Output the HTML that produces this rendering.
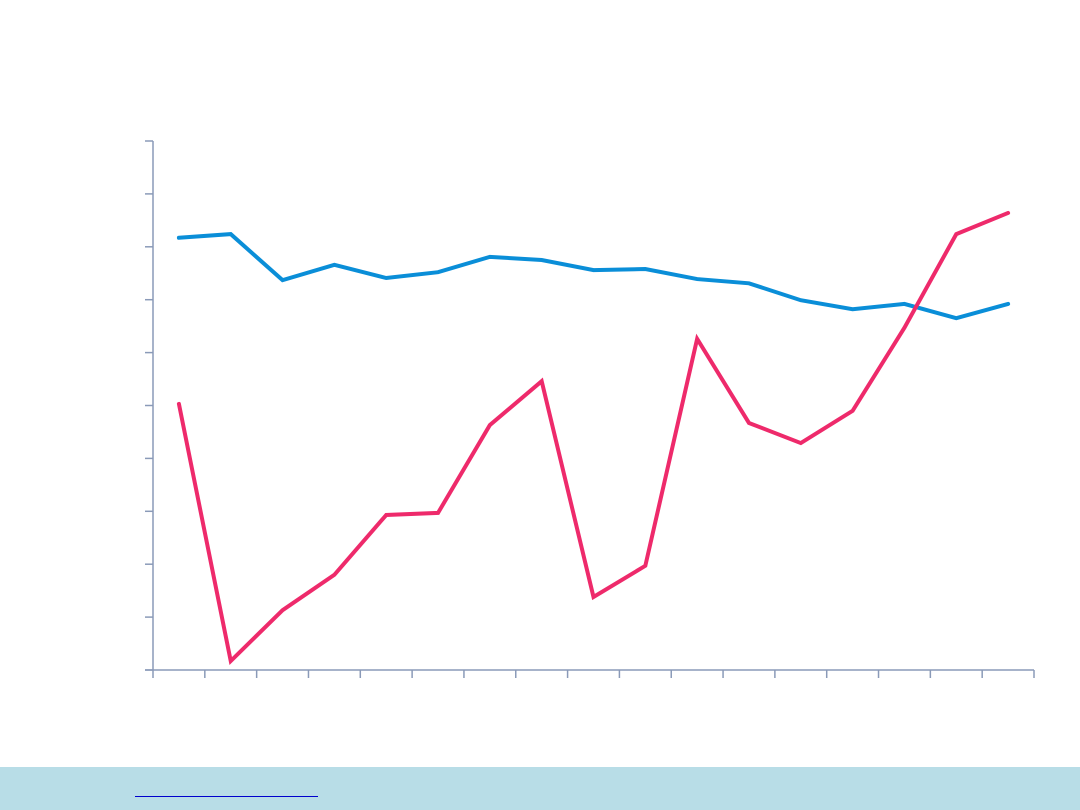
<!DOCTYPE html>
<html><head><meta charset="utf-8"><style>
body{margin:0;width:1080px;height:810px;background:#fff;position:relative;overflow:hidden;font-family:"Liberation Sans",sans-serif}
#footer{position:absolute;left:0;top:767px;width:1080px;height:43px;background:#b8dde7}
#link{position:absolute;left:135px;top:29px;width:183px;height:0;border-bottom:1.5px solid #0000cc}
</style></head><body>
<svg id="chart" width="1080" height="767" style="position:absolute;left:0;top:0"></svg>
<div id="footer"><a id="link"></a></div>
<script>
const categories=[1,2,3,4,5,6,7,8,9,10,11,12,13,14,15,16,17];
const seriesBlue=[8.17,8.24,7.37,7.66,7.41,7.52,7.81,7.75,7.56,7.58,7.39,7.31,6.99,6.82,6.92,6.65,6.92];
const seriesPink=[5.03,0.17,1.13,1.80,2.93,2.97,4.63,5.46,1.38,1.97,6.26,4.67,4.29,4.90,6.47,8.24,8.64];
const yTicks=[0,1,2,3,4,5,6,7,8,9,10];
const NS='http://www.w3.org/2000/svg';
const svg=document.getElementById('chart');
const x0=153,x1=1034,yb=670,yt=141;
const step=(x1-x0)/categories.length;
const xs=i=>x0+step*(i+0.5);
const ys=v=>yb-(v/10)*(yb-yt);
function el(t,a){const e=document.createElementNS(NS,t);for(const k in a)e.setAttribute(k,a[k]);svg.appendChild(e);return e;}
const axc='#8a9ab8';
let ya=el('line',{x1:x0,y1:yt,x2:x0,y2:yb,stroke:axc,'stroke-width':1.5});


let xa=el('line',{x1:145,y1:yb,x2:x1,y2:yb,stroke:axc,'stroke-width':1.5});


yTicks.forEach(v=>{let t=el('line',{x1:145,y1:ys(v),x2:x0,y2:ys(v),stroke:axc,'stroke-width':1.5});

});
for(let i=0;i<=categories.length;i++){const x=x0+step*i;let t=el('line',{x1:x,y1:yb,x2:x,y2:yb+8,stroke:axc,'stroke-width':1.5});

}
function line(data,color,name){const p=el('polyline',{points:data.map((v,i)=>xs(i)+','+ys(v)).join(' '),fill:'none',stroke:color,'stroke-width':4,'stroke-linejoin':'miter','stroke-linecap':'round'});

}
line(seriesBlue,'#0a8ed8','blue-series-line');
line(seriesPink,'#ee2a6b','pink-series-line');
</script>
</body></html>
